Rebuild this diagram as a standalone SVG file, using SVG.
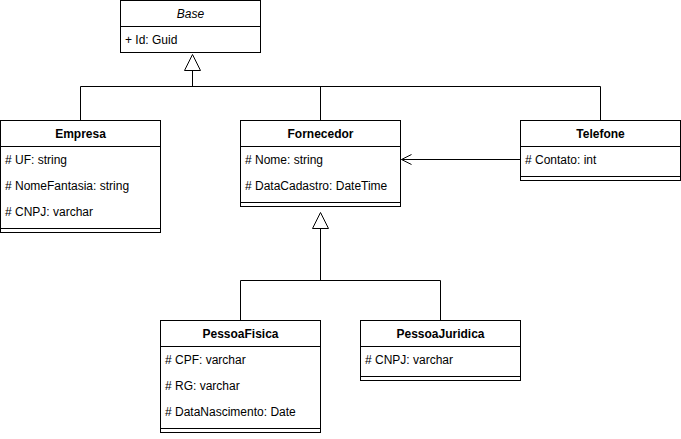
<svg xmlns="http://www.w3.org/2000/svg" width="681" height="439" viewBox="0 0 681 439">
<defs>
<style>
.box{fill:#fff;stroke:#000;stroke-width:1}
.ln{fill:none;stroke:#000;stroke-width:1}
.t{font-family:"Liberation Sans",Arial,Helvetica,sans-serif;font-size:12px;fill:#000}
.h{font-weight:bold;text-anchor:middle}
.i{font-style:italic;text-anchor:middle}
</style>
<marker id="open" markerWidth="12" markerHeight="12" refX="11" refY="6" orient="auto" markerUnits="userSpaceOnUse" viewBox="0 0 12 12">
<path d="M1,1 L11,6 L1,11" fill="none" stroke="#000" stroke-width="1"/>
</marker>
</defs>
<rect width="681" height="439" fill="#fff"/>
<g id="connectors">
<path class="ln" d="M80.5,120.5 V86.5 H600.5 V120.5"/>
<path class="ln" d="M320.5,120.5 V86.5"/>
<path class="ln" d="M192.5,86.5 V70.5"/>
<path class="box" d="M192.5,54.5 L200.5,70.5 L184.5,70.5 Z"/>
<path class="ln" d="M240.5,320.5 V280.5 H440.5 V320.5"/>
<path class="ln" d="M320.5,280.5 V228.5"/>
<path class="box" d="M320.5,212.5 L328.5,228.5 L312.5,228.5 Z"/>
<path class="ln" d="M520.5,159.5 H401.5" marker-end="url(#open)"/>
</g>
<g id="Base">
<rect class="box" x="120.5" y="0.5" width="140" height="52"/>
<line class="ln" x1="120.5" y1="26.5" x2="260.5" y2="26.5"/>
<text class="t i" x="190.5" y="18">Base</text>
<text class="t" x="125" y="44">+ Id: Guid</text>
</g>
<g id="Empresa">
<rect class="box" x="0.5" y="120.5" width="160" height="112"/>
<line class="ln" x1="0.5" y1="146.5" x2="160.5" y2="146.5"/>
<line class="ln" x1="0.5" y1="228.5" x2="160.5" y2="228.5"/>
<text class="t h" x="80.5" y="138">Empresa</text>
<text class="t" x="5" y="164"># UF: string</text>
<text class="t" x="5" y="190"># NomeFantasia: string</text>
<text class="t" x="5" y="216"># CNPJ: varchar</text>
</g>
<g id="Fornecedor">
<rect class="box" x="240.5" y="120.5" width="160" height="86"/>
<line class="ln" x1="240.5" y1="146.5" x2="400.5" y2="146.5"/>
<line class="ln" x1="240.5" y1="202.5" x2="400.5" y2="202.5"/>
<text class="t h" x="320.5" y="138">Fornecedor</text>
<text class="t" x="245" y="164"># Nome: string</text>
<text class="t" x="245" y="190"># DataCadastro: DateTime</text>
</g>
<g id="Telefone">
<rect class="box" x="520.5" y="120.5" width="160" height="60"/>
<line class="ln" x1="520.5" y1="146.5" x2="680.5" y2="146.5"/>
<line class="ln" x1="520.5" y1="176.5" x2="680.5" y2="176.5"/>
<text class="t h" x="600.5" y="138">Telefone</text>
<text class="t" x="525" y="164"># Contato: int</text>
</g>
<g id="PessoaFisica">
<rect class="box" x="160.5" y="320.5" width="160" height="112"/>
<line class="ln" x1="160.5" y1="346.5" x2="320.5" y2="346.5"/>
<line class="ln" x1="160.5" y1="428.5" x2="320.5" y2="428.5"/>
<text class="t h" x="240.5" y="338">PessoaFisica</text>
<text class="t" x="165" y="364"># CPF: varchar</text>
<text class="t" x="165" y="390"># RG: varchar</text>
<text class="t" x="165" y="416"># DataNascimento: Date</text>
</g>
<g id="PessoaJuridica">
<rect class="box" x="360.5" y="320.5" width="160" height="60"/>
<line class="ln" x1="360.5" y1="346.5" x2="520.5" y2="346.5"/>
<line class="ln" x1="360.5" y1="376.5" x2="520.5" y2="376.5"/>
<text class="t h" x="440.5" y="338">PessoaJuridica</text>
<text class="t" x="365" y="364"># CNPJ: varchar</text>
</g>
</svg>
